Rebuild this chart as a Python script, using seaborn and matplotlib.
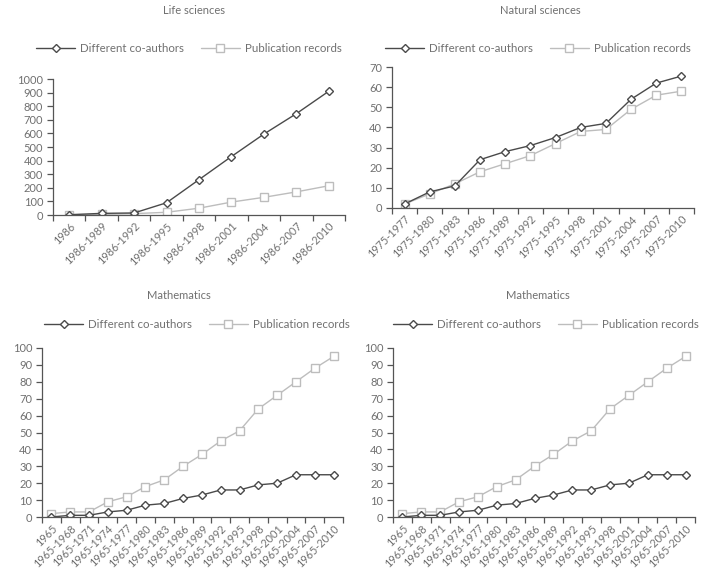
import numpy as np
import pandas as pd
import matplotlib
matplotlib.use("Agg")
import matplotlib.pyplot as plt
import seaborn as sns

sns.set_style("white")
plt.rcParams['font.family'] = ['Lato', 'DejaVu Sans']
plt.rcParams['font.weight'] = 'normal'

# ---------------- data ----------------
life_cats = ["1986", "1986-1989", "1986-1992", "1986-1995", "1986-1998",
             "1986-2001", "1986-2004", "1986-2007", "1986-2010"]
life_coauth = [2, 12, 15, 90, 260, 430, 595, 745, 910]
life_pubs = [2, 5, 10, 20, 50, 95, 130, 170, 215]

nat_cats = ["1975-1977", "1975-1980", "1975-1983", "1975-1986", "1975-1989",
            "1975-1992", "1975-1995", "1975-1998", "1975-2001", "1975-2004",
            "1975-2007", "1975-2010"]
nat_coauth = [2, 8, 11, 24, 28, 31, 35, 40, 42, 54, 62, 65.5]
nat_pubs = [2, 7, 12, 18, 22, 26, 32, 38, 39, 49, 56, 58]

math_cats = ["1965", "1965-1968", "1965-1971", "1965-1974", "1965-1977",
             "1965-1980", "1965-1983", "1965-1986", "1965-1989", "1965-1992",
             "1965-1995", "1965-1998", "1965-2001", "1965-2004", "1965-2007",
             "1965-2010"]
math_coauth = [0, 1, 1, 3, 4, 7, 8, 11, 13, 16, 16, 19, 20, 25, 25, 25]
math_pubs = [2, 3, 3, 9, 12, 18, 22, 30, 37, 45, 51, 64, 72, 80, 88, 95]

series_names = ["Different co-authors", "Publication records"]

W, H = 702, 570
fig = plt.figure(figsize=(W / 100, H / 100), dpi=100)

TXT = "#707070"
DARK = "#4a4a4a"
LIGHT = "#bdbdbd"
SPINE = "#555555"


def px_axes(l, r, t, b):
    return fig.add_axes([l / W, 1 - b / H, (r - l) / W, (b - t) / H])


def panel(ax, cats, coauth, pubs, ymax, ystep, title, title_xy, leg_xy):
    n = len(cats)
    df = pd.DataFrame({
        "pos": list(range(n)) * 2,
        "value": list(coauth) + list(pubs),
        "series": [series_names[0]] * n + [series_names[1]] * n,
    })
    # draw light series first so dark sits on top
    sns.lineplot(data=df[df.series == series_names[1]], x="pos", y="value",
                 ax=ax, color=LIGHT, lw=1.0, marker="s", markersize=5.5,
                 markerfacecolor="white", markeredgecolor=LIGHT,
                 markeredgewidth=1.0, label=series_names[1])
    sns.lineplot(data=df[df.series == series_names[0]], x="pos", y="value",
                 ax=ax, color=DARK, lw=1.0, marker="D", markersize=3.8,
                 markerfacecolor="white", markeredgecolor=DARK,
                 markeredgewidth=1.0, label=series_names[0])
    ax.set_xlim(-0.5, n - 0.5)
    ax.set_ylim(0, ymax)
    ax.set_yticks(np.arange(0, ymax + 1, ystep))
    ax.set_xticks(range(n))
    ax.set_xticklabels(cats, rotation=45, ha="right", rotation_mode="anchor",
                       fontsize=7.8, color=TXT)
    ax.set_xticks(np.arange(-0.5, n, 1.0), minor=True)
    ax.tick_params(axis="x", which="major", length=0, pad=4)
    ax.tick_params(axis="x", which="minor", length=4, color=SPINE, width=0.9,
                   direction="out", bottom=True)
    ax.tick_params(axis="y", length=4, color=SPINE, width=0.9, direction="out",
                   left=True, labelsize=8, labelcolor=TXT, pad=3)
    for s in ["top", "right"]:
        ax.spines[s].set_visible(False)
    for s in ["left", "bottom"]:
        ax.spines[s].set_color(SPINE)
        ax.spines[s].set_linewidth(0.9)
    ax.set_xlabel("")
    ax.set_ylabel("")
    ax.grid(False)
    handles, labels = ax.get_legend_handles_labels()
    order = [labels.index(series_names[0]), labels.index(series_names[1])]
    ax.legend([handles[i] for i in order], [labels[i] for i in order],
              loc="center", bbox_to_anchor=(leg_xy[0] / W, 1 - leg_xy[1] / H),
              bbox_transform=fig.transFigure, ncol=2, frameon=False,
              handlelength=3.4, columnspacing=1.4, handletextpad=0.45,
              fontsize=8.3, labelcolor=TXT)
    fig.text(title_xy[0] / W, 1 - title_xy[1] / H, title, ha="center",
             va="center", fontsize=8, color=TXT)


ax1 = px_axes(53, 345, 79, 215)
panel(ax1, life_cats, life_coauth, life_pubs, 1000, 100, "Life sciences",
      (194, 10), (189, 49))

ax2 = px_axes(392, 694, 67, 208)
panel(ax2, nat_cats, nat_coauth, nat_pubs, 70, 10, "Natural sciences",
      (540, 11), (538, 49))

ax3 = px_axes(42, 343, 348, 517)
panel(ax3, math_cats, math_coauth, math_pubs, 100, 10, "Mathematics",
      (179, 295), (197, 325))

ax4 = px_axes(393, 695, 348, 517)
panel(ax4, math_cats, math_coauth, math_pubs, 100, 10, "Mathematics",
      (538, 295), (546, 325))

fig.savefig("out.png", dpi=100)
